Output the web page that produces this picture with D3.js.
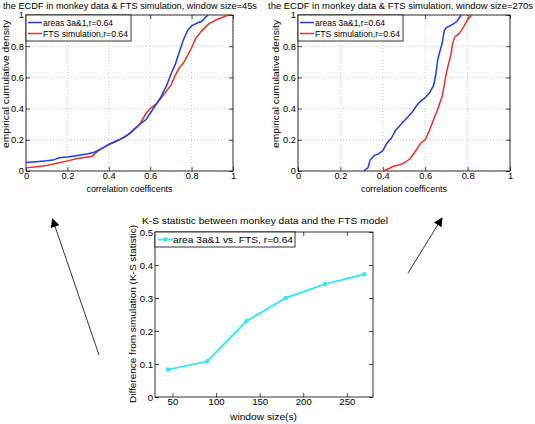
<!DOCTYPE html>
<html><head><meta charset="utf-8">
<script src="https://cdn.jsdelivr.net/npm/d3@7"></script>
<style>
body{margin:0;background:#fff;}
text{font-family:"Liberation Sans",Arial,sans-serif;}
</style></head>
<body><svg id="c" width="535" height="424"></svg>
<script>
// ECDF, window size 45s
const ecdf45X_area = [0,0.05,0.1,0.13,0.16,0.2,0.25,0.3,0.33,0.36,0.4,0.45,0.48,0.5,0.55,0.58,0.6,0.62,0.65,0.68,0.7,0.72,0.74,0.76,0.78,0.8,0.83,0.85,0.87,0.88];
const ecdf45Y_area = [0.055,0.06,0.065,0.07,0.085,0.09,0.10,0.11,0.12,0.14,0.17,0.2,0.22,0.24,0.3,0.33,0.37,0.41,0.47,0.55,0.62,0.68,0.76,0.84,0.9,0.93,0.95,0.96,0.99,1.0];
const ecdf45X_fts = [0,0.05,0.1,0.15,0.2,0.25,0.32,0.35,0.4,0.45,0.5,0.55,0.58,0.6,0.63,0.66,0.7,0.72,0.74,0.76,0.78,0.8,0.82,0.85,0.88,0.92,0.96,0.98];
const ecdf45Y_fts = [0.02,0.028,0.035,0.05,0.065,0.08,0.095,0.13,0.17,0.2,0.24,0.3,0.37,0.4,0.43,0.48,0.55,0.61,0.66,0.69,0.74,0.79,0.85,0.9,0.94,0.97,0.99,1.0];
// ECDF, window size 270s
const ecdf270X_area = [0.31,0.33,0.34,0.36,0.38,0.40,0.42,0.44,0.46,0.48,0.50,0.52,0.54,0.56,0.58,0.60,0.62,0.64,0.65,0.66,0.68,0.69,0.70,0.73,0.75,0.77];
const ecdf270Y_area = [0,0.02,0.07,0.10,0.11,0.13,0.18,0.21,0.26,0.29,0.32,0.35,0.38,0.42,0.45,0.47,0.50,0.55,0.62,0.72,0.82,0.90,0.92,0.94,0.96,1.0];
const ecdf270X_fts = [0.40,0.42,0.45,0.48,0.50,0.53,0.55,0.58,0.60,0.62,0.64,0.66,0.68,0.69,0.70,0.72,0.73,0.74,0.76,0.78,0.80,0.82];
const ecdf270Y_fts = [0,0.01,0.03,0.04,0.05,0.08,0.12,0.18,0.20,0.26,0.33,0.40,0.48,0.55,0.63,0.74,0.82,0.86,0.88,0.92,0.97,1.0];
// K-S statistic
const windowSizes = [45,90,135,180,225,270];
const ksValues = [0.083,0.108,0.23,0.30,0.342,0.372];
const ecdfTicks = [0,0.2,0.4,0.6,0.8,1];
const ksXTicks = [50,100,150,200,250];
const ksYTicks = [0,0.1,0.2,0.3,0.4,0.5];

const svg = d3.select("#c");
const BLUE="#1f3fe0", RED="#e0352a", CYAN="#3ee6ee";

function frame(g, x, y, xt, yt, fmtx, fmty, grid, fs){
  const [x0,x1]=x.range(), [y1,y0]=y.range();
  if(grid){
    g.selectAll(".gx").data(xt).join("line").attr("x1",d=>x(d)).attr("x2",d=>x(d)).attr("y1",y0).attr("y2",y1)
      .attr("stroke","#bbb").attr("stroke-width",0.8).attr("stroke-dasharray","1,2");
    g.selectAll(".gy").data(yt).join("line").attr("y1",d=>y(d)).attr("y2",d=>y(d)).attr("x1",x0).attr("x2",x1)
      .attr("stroke","#bbb").attr("stroke-width",0.8).attr("stroke-dasharray","1,2");
  }
  const ax = g.append("g").attr("transform",`translate(0,${y1})`).call(d3.axisBottom(x).tickValues(xt).tickFormat(fmtx).tickSizeInner(-4).tickSizeOuter(0).tickPadding(1.5));
  const ay = g.append("g").attr("transform",`translate(${x0},0)`).call(d3.axisLeft(y).tickValues(yt).tickFormat(fmty).tickSizeInner(-4).tickSizeOuter(0).tickPadding(2));
  const at = g.append("g").attr("transform",`translate(0,${y0})`).call(d3.axisTop(x).tickValues(xt).tickFormat("").tickSizeInner(-4).tickSizeOuter(0));
  const ar = g.append("g").attr("transform",`translate(${x1},0)`).call(d3.axisRight(y).tickValues(yt).tickFormat("").tickSizeInner(-4).tickSizeOuter(0));
  [ax,ay,at,ar].forEach(a=>{a.selectAll(".domain").remove(); a.selectAll("line").attr("stroke","#000").attr("stroke-width",0.7);
    a.selectAll("text").attr("font-size",fs).attr("fill","#000").attr("font-family","Liberation Sans, Arial, sans-serif");});
  g.append("rect").attr("x",x0).attr("y",y0).attr("width",x1-x0).attr("height",y1-y0).attr("fill","none").attr("stroke","#000").attr("stroke-width",0.8);
}
const fmtE = d=> d===0?"0":(d===1?"1":d3.format(".1f")(d));

function ecdfPlot(left,right,title,titleX,titleLen,xs1,ys1,xs2,ys2,ylabX){
  const g = svg.append("g");
  const x = d3.scaleLinear().domain([0,1]).range([left,right]);
  const y = d3.scaleLinear().domain([0,1]).range([171,15]);
  frame(g,x,y,ecdfTicks,ecdfTicks,fmtE,fmtE,true,9.3);
  const line = d3.line().x(d=>x(d[0])).y(d=>y(d[1]));
  g.append("path").attr("d",line(d3.zip(xs2,ys2))).attr("fill","none").attr("stroke",RED).attr("stroke-width",1.5);
  g.append("path").attr("d",line(d3.zip(xs1,ys1))).attr("fill","none").attr("stroke",BLUE).attr("stroke-width",1.5);
  g.append("text").attr("x",titleX).attr("y",9).attr("font-size",9.4)
    .attr("textLength",titleLen).attr("lengthAdjust","spacingAndGlyphs").text(title);
  g.append("text").attr("x",(left+right)/2).attr("y",191.5).attr("text-anchor","middle").attr("font-size",9.2)
    .attr("textLength",86).attr("lengthAdjust","spacingAndGlyphs").text("correlation coefficents");
  g.append("text").attr("transform",`translate(${ylabX},84) rotate(-90)`).attr("text-anchor","middle").attr("font-size",9.2)
    .attr("textLength",128).attr("lengthAdjust","spacingAndGlyphs").text("empirical cumulative density");
  // legend
  const lg = g.append("g");
  lg.append("rect").attr("x",left).attr("y",15).attr("width",105).attr("height",26).attr("fill","#fff").attr("stroke","#000").attr("stroke-width",0.8);
  [[BLUE,"areas 3a&1,r=0.64",22.5,70],[RED,"FTS simulation,r=0.64",33.5,85]].forEach(([c,t,yy,len])=>{
    lg.append("line").attr("x1",left+2).attr("x2",left+16).attr("y1",yy).attr("y2",yy).attr("stroke",c).attr("stroke-width",1.5);
    lg.append("text").attr("x",left+17).attr("y",yy+3.3).attr("font-size",9.3)
      .attr("textLength",len).attr("lengthAdjust","spacingAndGlyphs").text(t);
  });
}
ecdfPlot(26,233,"the ECDF in monkey data & FTS simulation, window size=45s",3,254,ecdf45X_area,ecdf45Y_area,ecdf45X_fts,ecdf45Y_fts,9);
ecdfPlot(298,510,"the ECDF in monkey data & FTS simulation, window size=270s",268,265,ecdf270X_area,ecdf270Y_area,ecdf270X_fts,ecdf270Y_fts,278.5);

// K-S plot
{
  const g = svg.append("g");
  const x = d3.scaleLinear().domain([30,280]).range([155,373]);
  const y = d3.scaleLinear().domain([0,0.5]).range([397,232]);
  frame(g,x,y,ksXTicks,ksYTicks,d3.format("d"),d=>d===0?"0":d3.format(".1f")(d),false,9.6);
  const line = d3.line().x((d,i)=>x(windowSizes[i])).y(d=>y(d));
  g.append("path").attr("d",line(ksValues)).attr("fill","none").attr("stroke",CYAN).attr("stroke-width",2);
  g.selectAll(".m").data(ksValues).join("circle").attr("cx",(d,i)=>x(windowSizes[i])).attr("cy",d=>y(d)).attr("r",2.3).attr("fill",CYAN);
  g.append("text").attr("x",142).attr("y",224).attr("font-size",9.8)
    .attr("textLength",246).attr("lengthAdjust","spacingAndGlyphs").text("K-S statistic between monkey data and the FTS model");
  g.append("text").attr("x",230).attr("y",420).attr("font-size",9.8)
    .attr("textLength",67).attr("lengthAdjust","spacingAndGlyphs").text("window size(s)");
  g.append("text").attr("transform",`translate(136,403) rotate(-90)`).attr("font-size",9.8)
    .attr("textLength",178).attr("lengthAdjust","spacingAndGlyphs").text("Difference from simulation (K-S statistic)");
  g.append("rect").attr("x",155).attr("y",232).attr("width",140).attr("height",15).attr("fill","#fff").attr("stroke","#000").attr("stroke-width",0.8);
  g.append("line").attr("x1",158).attr("x2",173).attr("y1",239.5).attr("y2",239.5).attr("stroke",CYAN).attr("stroke-width",2);
  g.append("circle").attr("cx",165.5).attr("cy",239.5).attr("r",2.3).attr("fill",CYAN);
  g.append("text").attr("x",173).attr("y",243).attr("font-size",9.6)
    .attr("textLength",120).attr("lengthAdjust","spacingAndGlyphs").text("area 3a&1 vs. FTS, r=0.64");
}
// arrows
const defs = svg.append("defs");
defs.append("marker").attr("id","ah").attr("viewBox","0 0 10 10").attr("refX",9).attr("refY",5).attr("markerWidth",9).attr("markerHeight",9).attr("markerUnits","userSpaceOnUse").attr("orient","auto")
  .append("path").attr("d","M0,0 L10,5 L0,10 z").attr("fill","#000");
svg.append("line").attr("x1",99).attr("y1",355).attr("x2",52.5).attr("y2",219).attr("stroke","#333").attr("stroke-width",1).attr("marker-end","url(#ah)");
svg.append("line").attr("x1",408).attr("y1",273).attr("x2",442).attr("y2",218).attr("stroke","#333").attr("stroke-width",1).attr("marker-end","url(#ah)");
</script></body></html>
